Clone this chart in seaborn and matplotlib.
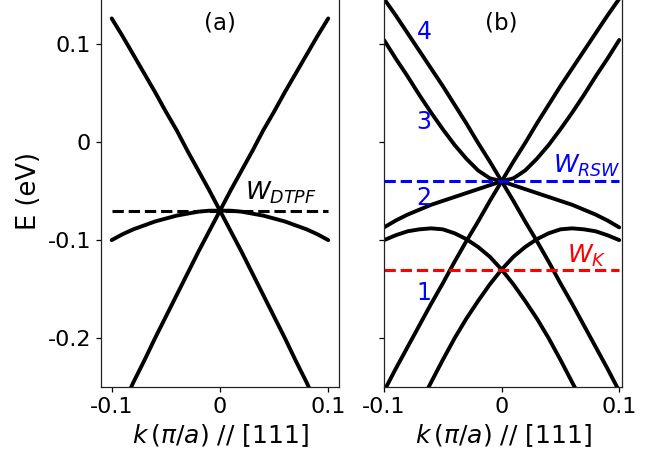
import matplotlib
matplotlib.use("Agg")
import matplotlib.pyplot as plt
import seaborn as sns

sns.set_style("ticks")
plt.rcParams['font.family'] = ['DejaVu Sans']
plt.rcParams['mathtext.fontset'] = 'dejavusans'
plt.rcParams['text.color'] = 'black'
plt.rcParams['axes.labelcolor'] = 'black'
plt.rcParams['xtick.color'] = 'black'
plt.rcParams['ytick.color'] = 'black'

# ---- data ----
k = [-0.10, -0.09, -0.08, -0.07, -0.06, -0.05, -0.04, -0.03, -0.02, -0.01, 0.00,
     0.01, 0.02, 0.03, 0.04, 0.05, 0.06, 0.07, 0.08, 0.09, 0.10]

# panel (a)
a_cone_down = [0.126, 0.108, 0.089, 0.070, 0.051, 0.031, 0.012, -0.009, -0.029, -0.049, -0.070,
               -0.091, -0.112, -0.134, -0.156, -0.178, -0.200, -0.223, -0.245, -0.269, -0.292]
a_cone_up = a_cone_down[::-1]
a_flat = [-0.100, -0.094, -0.089, -0.085, -0.081, -0.078, -0.075, -0.073, -0.071, -0.070, -0.070,
          -0.070, -0.071, -0.073, -0.075, -0.078, -0.081, -0.085, -0.089, -0.094, -0.100]
a_weyl = -0.07

# panel (b)
b_line_down = [0.146, 0.129, 0.111, 0.093, 0.075, 0.057, 0.038, 0.019, -0.001, -0.020, -0.040,
               -0.060, -0.081, -0.101, -0.122, -0.144, -0.165, -0.187, -0.209, -0.231, -0.254]
b_line_up = b_line_down[::-1]
b_band3 = [0.104, 0.085, 0.067, 0.048, 0.030, 0.013, -0.003, -0.017, -0.029, -0.037, -0.040,
           -0.037, -0.029, -0.017, -0.003, 0.013, 0.030, 0.048, 0.067, 0.085, 0.104]
b_band2 = [-0.087, -0.080, -0.074, -0.069, -0.064, -0.060, -0.056, -0.052, -0.048, -0.044, -0.040,
           -0.044, -0.048, -0.052, -0.056, -0.060, -0.064, -0.069, -0.074, -0.080, -0.087]
b_band1_left = [-0.100, -0.095, -0.091, -0.089, -0.088, -0.089, -0.093, -0.099, -0.107, -0.117, -0.130,
                -0.145, -0.162, -0.180, -0.200, -0.222, -0.245, -0.268, -0.291, -0.314, -0.337]
b_band1_right = b_band1_left[::-1]
b_rsw = -0.04
b_wk = -0.13

band_labels = ["1", "2", "3", "4"]
band_label_E = [-0.154, -0.0575, 0.020, 0.112]

yticks = [-0.2, -0.1, 0.0, 0.1]
yticklabels = ["-0.2", "-0.1", "0", "0.1"]
xticks = [-0.1, 0.0, 0.1]
xticklabels = ["-0.1", "0", "0.1"]

# ---- figure ----
fig = plt.figure(figsize=(6.68, 4.58), dpi=100)
axa = fig.add_axes([0.1510, 0.1544, 0.3566, 0.8568])
axb = fig.add_axes([0.5749, 0.1544, 0.3558, 0.8568])

lw = 2.8
dash = (4.5, 2.0)
for E in (a_cone_down, a_cone_up, a_flat):
    sns.lineplot(x=k, y=E, ax=axa, color='black', lw=lw)
sns.lineplot(x=[k[0], k[-1]], y=[a_weyl, a_weyl], ax=axa, color='black', lw=2.2,
             linestyle='--', dashes=dash)

for E in (b_line_down, b_line_up, b_band3, b_band2, b_band1_left, b_band1_right):
    sns.lineplot(x=k, y=E, ax=axb, color='black', lw=lw)
sns.lineplot(x=[k[0], k[-1]], y=[b_rsw, b_rsw], ax=axb, color='blue', lw=2.2,
             linestyle='--', dashes=dash)
sns.lineplot(x=[k[0], k[-1]], y=[b_wk, b_wk], ax=axb, color='red', lw=2.2,
             linestyle='--', dashes=dash)

axa.text(0.0, 0.1215, "(a)", ha='center', va='center', fontsize=16.5)
axb.text(0.0, 0.1215, "(b)", ha='center', va='center', fontsize=16.5)
axa.text(0.023, -0.0594, r"$W_{DTPF}$", fontsize=18, ha='left', va='baseline')
axb.text(0.0437, -0.031, r"$W_{RSW}$", fontsize=18, ha='left', va='baseline', color='blue')
axb.text(0.056, -0.123, r"$W_{K}$", fontsize=18, ha='left', va='baseline', color='red')
for lab, e in zip(band_labels, band_label_E):
    axb.text(-0.066, e, lab, ha='center', va='center', fontsize=17, color='blue')

for ax, xl in ((axa, (-0.11, 0.11)), (axb, (-0.1, 0.1021))):
    ax.set_xlim(*xl)
    ax.set_ylim(-0.25, 0.15)
    ax.set_xticks(xticks)
    ax.set_xticklabels(xticklabels, fontsize=16)
    ax.set_yticks(yticks)
    ax.set_xlabel(r"$k\,(\pi/a)$ // [111]", fontsize=18)
    for s in ax.spines.values():
        s.set_color('#222222')
        s.set_linewidth(0.9)
    ax.tick_params(length=3.5, width=0.9)

axa.set_yticklabels(yticklabels, fontsize=16)
axb.set_yticklabels([])
axa.set_ylabel("E (eV)", fontsize=18.5)

fig.savefig("out.png", dpi=100)
